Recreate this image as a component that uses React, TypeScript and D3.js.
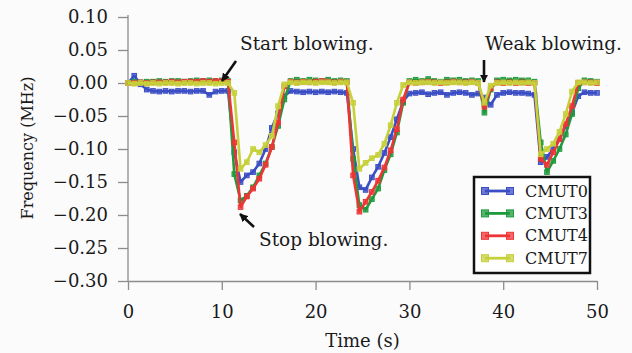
import React, { useEffect, useRef } from "react";
import * as d3 from "d3";

// sampling interval of the recording (s)
const SAMPLE_STEP = 2 / 3;

const cmut0 = [
  0.0, 0.011, -0.002, -0.01, -0.012, -0.013, -0.012, -0.013, -0.012, -0.012,
  -0.013, -0.012, -0.012, -0.018, -0.013, -0.012, -0.012, -0.105, -0.15, -0.14,
  -0.135, -0.122, -0.1, -0.068, -0.046, -0.02, -0.012, -0.013, -0.014, -0.013,
  -0.014, -0.013, -0.014, -0.013, -0.014, -0.015, -0.1, -0.158, -0.162, -0.143,
  -0.127, -0.106, -0.082, -0.055, -0.028, -0.016, -0.015, -0.014, -0.017, -0.015,
  -0.014, -0.018, -0.015, -0.014, -0.015, -0.018, -0.016, -0.022, -0.033, -0.018,
  -0.015, -0.014, -0.015, -0.015, -0.016, -0.018, -0.12, -0.112, -0.1, -0.085,
  -0.065, -0.045, -0.02, -0.014, -0.015, -0.015,
];

const cmut3 = [
  0.0, 0.002, 0.001, 0.002, 0.002, 0.003, 0.002, 0.003, 0.003, 0.002,
  0.003, 0.004, 0.003, 0.004, 0.003, 0.004, 0.003, -0.138, -0.178, -0.171,
  -0.158, -0.14, -0.122, -0.097, -0.065, -0.025, 0.003, 0.005, 0.003, 0.005,
  0.004, 0.003, 0.005, 0.003, 0.004, 0.003, -0.115, -0.185, -0.192, -0.176,
  -0.16, -0.132, -0.108, -0.075, -0.03, 0.003, 0.005, 0.003, 0.006, 0.003,
  0.002, 0.005, 0.004, 0.005, 0.003, 0.004, 0.003, -0.045, -0.01, 0.004,
  0.005, 0.004, 0.005, 0.004, 0.004, 0.002, -0.09, -0.135, -0.118, -0.1,
  -0.078, -0.047, -0.008, 0.004, 0.003, 0.002,
];

const cmut4 = [
  0.0, 0.0, 0.001, 0.0, 0.001, 0.001, 0.001, 0.002, 0.001, 0.002,
  0.002, 0.002, 0.003, 0.002, 0.003, 0.003, 0.002, -0.09, -0.188, -0.172,
  -0.16, -0.145, -0.124, -0.097, -0.06, -0.005, 0.002, 0.001, 0.002, 0.001,
  0.002, 0.003, 0.002, 0.001, 0.002, 0.001, -0.14, -0.195, -0.18, -0.165,
  -0.148, -0.128, -0.102, -0.07, -0.025, 0.001, 0.0, 0.001, 0.002, 0.001,
  0.0, 0.001, 0.002, 0.001, 0.001, 0.002, 0.0, -0.036, -0.008, 0.001,
  0.0, 0.001, 0.0, 0.001, 0.0, 0.0, -0.115, -0.124, -0.105, -0.085,
  -0.062, -0.035, 0.0, 0.001, 0.001, 0.0,
];

const cmut7 = [
  0.0, -0.001, 0.0, -0.001, 0.0, -0.001, 0.0, 0.0, -0.001, 0.0,
  0.0, -0.001, 0.0, 0.0, -0.001, 0.0, 0.0, -0.015, -0.13, -0.12,
  -0.1, -0.105, -0.094, -0.08, -0.035, -0.002, 0.001, 0.0, 0.001, 0.001,
  0.0, 0.001, 0.001, 0.0, 0.001, 0.001, -0.03, -0.13, -0.121, -0.114,
  -0.109, -0.092, -0.064, -0.03, -0.003, 0.001, 0.0, 0.001, 0.001, 0.0,
  0.001, 0.0, 0.001, 0.001, 0.0, 0.001, 0.0, -0.03, -0.004, 0.0,
  0.001, 0.0, 0.001, 0.0, 0.001, 0.0, -0.108, -0.1, -0.092, -0.074,
  -0.047, -0.013, 0.001, 0.001, 0.0, 0.001,
];

const seriesNames = ["CMUT0", "CMUT3", "CMUT4", "CMUT7"];
const seriesValues = [cmut0, cmut3, cmut4, cmut7];
const seriesColors = ["#3b4ec4", "#1f9a3c", "#ee3535", "#c6d03a"];

const xTicks = [0, 10, 20, 30, 40, 50];
const yTicks = [0.1, 0.05, 0, -0.05, -0.1, -0.15, -0.2, -0.25, -0.3];

const annotations = [
  { text: "Start blowing.", x: 240, y: 50, from: [236, 61], to: [222, 81] },
  { text: "Weak blowing.", x: 485, y: 50, from: [484, 60], to: [484, 82] },
  { text: "Stop blowing.", x: 259, y: 246, from: [254, 227], to: [240, 214] },
];

const FONT = "'DejaVu Serif', serif";

export default function App() {
  const svgRef = useRef<SVGSVGElement>(null);

  useEffect(() => {
    if (!svgRef.current) return;
    const svg = d3.select(svgRef.current);
    svg.selectAll("*").remove();

    const width = 632;
    const height = 353;
    const left = 128;
    const right = 597;
    const top = 17;
    const bottom = 281;

    svg
      .append("rect")
      .attr("width", width)
      .attr("height", height)
      .attr("fill", "#fbfbfc");

    const x = d3.scaleLinear().domain([0, 50]).range([left, right]);
    const y = d3.scaleLinear().domain([-0.3, 0.1]).range([bottom, top]);

    // axes
    const yAxis = svg
      .append("g")
      .attr("transform", `translate(${left},0)`)
      .call(
        d3
          .axisLeft(y)
          .tickValues(yTicks)
          .tickFormat(d3.format(".2f"))
          .tickSize(10)
          .tickSizeOuter(0)
          .tickPadding(10)
      );
    const xAxis = svg
      .append("g")
      .attr("transform", `translate(0,${bottom})`)
      .call(
        d3
          .axisBottom(x)
          .tickValues(xTicks)
          .tickSize(9)
          .tickSizeOuter(0)
          .tickPadding(15)
      );
    [yAxis, xAxis].forEach((ax) => {
      ax.select(".domain").attr("stroke", "#8c8c8c").attr("stroke-width", 1.3);
      ax.selectAll(".tick line")
        .attr("stroke", "#8c8c8c")
        .attr("stroke-width", 1.3);
      ax.selectAll(".tick text")
        .attr("fill", "#1a1a1a")
        .style("font-family", FONT)
        .style("font-size", "18px");
    });
    yAxis.select(".domain").attr("d", `M0,${top - 2}V${bottom}`);

    svg
      .append("text")
      .attr("transform", `translate(33,148) rotate(-90)`)
      .attr("text-anchor", "middle")
      .style("font-family", FONT)
      .style("font-size", "16px")
      .attr("fill", "#1a1a1a")
      .text("Frequency (MHz)");

    svg
      .append("text")
      .attr("x", (left + right) / 2)
      .attr("y", 347)
      .attr("text-anchor", "middle")
      .style("font-family", FONT)
      .style("font-size", "18px")
      .attr("fill", "#1a1a1a")
      .text("Time (s)");

    // series
    const line = d3
      .line<number>()
      .x((_, i) => x(i * SAMPLE_STEP))
      .y((d) => y(d));

    seriesValues.forEach((vals, k) => {
      const g = svg.append("g");
      g.append("path")
        .attr("d", line(vals) || "")
        .attr("fill", "none")
        .attr("stroke", seriesColors[k])
        .attr("stroke-width", 2.6)
        .attr("stroke-linejoin", "round");
      g.selectAll("rect")
        .data(vals)
        .enter()
        .append("rect")
        .attr("x", (_, i) => x(i * SAMPLE_STEP) - 2.3)
        .attr("y", (d) => y(d) - 2.3)
        .attr("width", 4.6)
        .attr("height", 4.6)
        .attr("fill", seriesColors[k])
        .attr("fill-opacity", 0.75)
        .attr("stroke", seriesColors[k])
        .attr("stroke-width", 1);
    });

    // annotations
    const defs = svg.append("defs");
    defs
      .append("marker")
      .attr("id", "arrowhead")
      .attr("viewBox", "0 0 10 10")
      .attr("refX", 9)
      .attr("refY", 5)
      .attr("markerWidth", 3.2)
      .attr("markerHeight", 3.2)
      .attr("orient", "auto")
      .append("path")
      .attr("d", "M0,0L10,5L0,10Z")
      .attr("fill", "#111");

    annotations.forEach((a) => {
      svg
        .append("line")
        .attr("x1", a.from[0])
        .attr("y1", a.from[1])
        .attr("x2", a.to[0])
        .attr("y2", a.to[1])
        .attr("stroke", "#111")
        .attr("stroke-width", 2.6)
        .attr("marker-end", "url(#arrowhead)");
      svg
        .append("text")
        .attr("x", a.x)
        .attr("y", a.y)
        .style("font-family", FONT)
        .style("font-size", "18.5px")
        .attr("fill", "#1a1a1a")
        .text(a.text);
    });

    // legend
    const lg = svg.append("g");
    lg.append("rect")
      .attr("x", 474)
      .attr("y", 177)
      .attr("width", 116)
      .attr("height", 96)
      .attr("fill", "#ffffff")
      .attr("stroke", "#111")
      .attr("stroke-width", 2.5);
    seriesNames.forEach((name, k) => {
      const ly = 191 + k * 22.4;
      lg.append("line")
        .attr("x1", 485)
        .attr("x2", 510)
        .attr("y1", ly)
        .attr("y2", ly)
        .attr("stroke", seriesColors[k])
        .attr("stroke-width", 2.8);
      [485, 510].forEach((lx) => {
        lg.append("rect")
          .attr("x", lx - 3.5)
          .attr("y", ly - 3.5)
          .attr("width", 7)
          .attr("height", 7)
          .attr("fill", seriesColors[k])
          .attr("fill-opacity", 0.75)
          .attr("stroke", seriesColors[k])
          .attr("stroke-width", 1);
      });
      lg.append("text")
        .attr("x", 525)
        .attr("y", ly)
        .attr("dy", "0.35em")
        .style("font-family", FONT)
        .style("font-size", "16px")
        .attr("fill", "#1a1a1a")
        .text(name);
    });
  }, []);

  return (
    <svg
      ref={svgRef}
      width={632}
      height={353}
      style={{ position: "absolute", left: 0, top: 0 }}
    />
  );
}
